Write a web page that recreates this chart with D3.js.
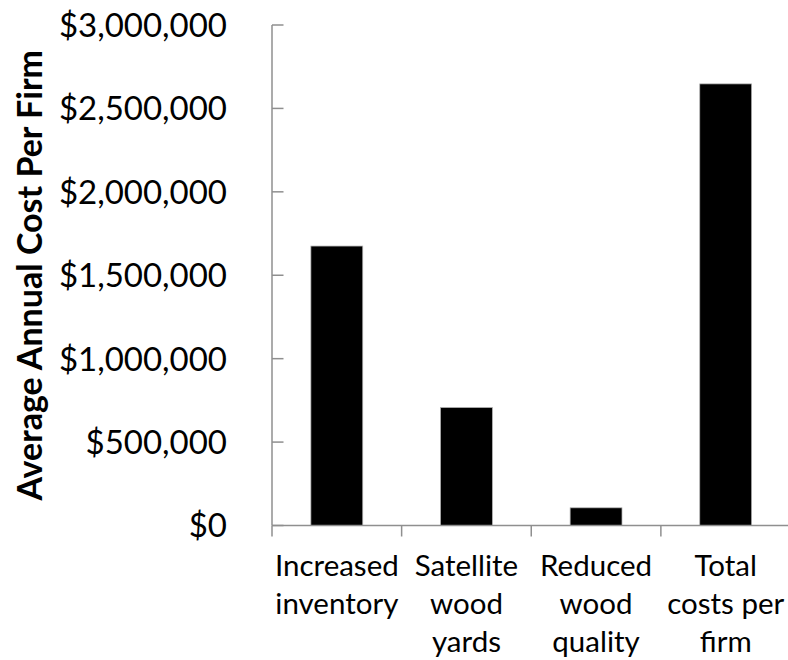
<!DOCTYPE html>
<html>
<head>
<meta charset="utf-8">
<script src="https://cdn.jsdelivr.net/npm/d3@7"></script>
<style>
  html, body { margin: 0; padding: 0; background: #fff; }
  svg { display: block; }
  text { font-family: Lato, "Open Sans", sans-serif; fill: #000; }
</style>
</head>
<body>
<svg id="chart" width="788" height="660"></svg>
<script>
// ---- data ----
const categories = [
  ["Increased", "inventory"],
  ["Satellite", "wood", "yards"],
  ["Reduced", "wood", "quality"],
  ["Total", "costs per", "firm"]
];
const values = [1675000, 707000, 106000, 2647000];
const yTicks = [0, 500000, 1000000, 1500000, 2000000, 2500000, 3000000];
const yTitle = "Average Annual Cost Per Firm";

// ---- layout ----
const svg = d3.select("#chart");
const plotLeft = 272, plotRight = 790.5, plotTop = 25, plotBottom = 525.5;
const axisColor = "#8f8f8f";

const x = d3.scaleBand()
  .domain(d3.range(categories.length))
  .range([plotLeft, plotRight])
  .paddingInner(0.6)
  .paddingOuter(0.3);

const y = d3.scaleLinear().domain([0, 3000000]).range([plotBottom, plotTop]);

const fmt = v => "$" + d3.format(",")(v);

// bars
svg.append("g").selectAll("rect")
  .data(values)
  .join("rect")
  .attr("x", (d, i) => x(i))
  .attr("width", x.bandwidth())
  .attr("y", d => y(d))
  .attr("height", d => y(0) - y(d))
  .attr("fill", "#000")
  .attr("stroke", "#b0b0b0")
  .attr("stroke-width", 0.75);

// y axis
const yAxis = svg.append("g");
yAxis.append("line")
  .attr("x1", plotLeft).attr("x2", plotLeft)
  .attr("y1", y(3000000)).attr("y2", y(0))
  .attr("stroke", axisColor).attr("stroke-width", 1.5);
yAxis.selectAll("line.tick")
  .data(yTicks)
  .join("line")
  .attr("class", "tick")
  .attr("x1", plotLeft).attr("x2", plotLeft + 11.5)
  .attr("y1", d => y(d)).attr("y2", d => y(d))
  .attr("stroke", axisColor).attr("stroke-width", 1.5);
yAxis.selectAll("text")
  .data(yTicks)
  .join("text")
  .attr("x", plotLeft - 45)
  .attr("y", d => y(d))
  .attr("dy", "0.36em")
  .attr("text-anchor", "end")
  .attr("font-size", 33)
  .text(fmt);

// x axis
const xAxis = svg.append("g");
xAxis.append("line")
  .attr("x1", plotLeft).attr("x2", 788)
  .attr("y1", plotBottom).attr("y2", plotBottom)
  .attr("stroke", axisColor).attr("stroke-width", 1.5);
const step = x.step();
xAxis.selectAll("line.tick")
  .data(d3.range(categories.length + 1))
  .join("line")
  .attr("class", "tick")
  .attr("x1", i => plotLeft + i * step).attr("x2", i => plotLeft + i * step)
  .attr("y1", plotBottom).attr("y2", plotBottom + 11)
  .attr("stroke", axisColor).attr("stroke-width", 1.5);

const lab = xAxis.selectAll("text")
  .data(categories)
  .join("text")
  .attr("text-anchor", "middle")
  .attr("font-size", 29.5)
  .attr("transform", (d, i) => `translate(${x(i) + x.bandwidth() / 2},576)`);
lab.selectAll("tspan")
  .data(d => d)
  .join("tspan")
  .attr("x", 0)
  .attr("y", (d, j) => j * 38)
  .text(d => d);

// y title
svg.append("text")
  .attr("transform", `translate(42,${(plotTop + plotBottom) / 2}) rotate(-90)`)
  .attr("text-anchor", "middle")
  .attr("font-size", 34)
  .attr("font-weight", "bold")
  .text(yTitle);
</script>
</body>
</html>
